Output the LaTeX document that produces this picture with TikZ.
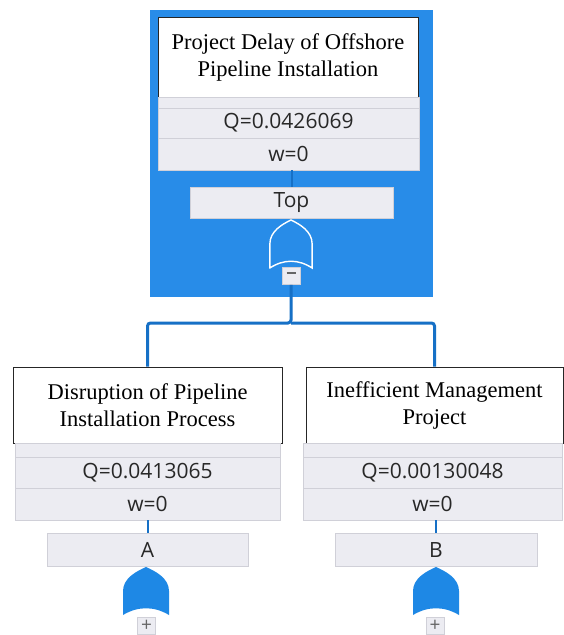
\documentclass[tikz,border=0pt]{standalone}
\usepackage{fontspec}
\setmainfont{Liberation Serif}
\newfontfamily\uifont{Open Sans}
\definecolor{panelblue}{RGB}{40,140,232}
\definecolor{linkblue}{RGB}{22,112,198}
\definecolor{gatefill}{RGB}{30,136,229}
\definecolor{rowfill}{RGB}{236,236,242}
\definecolor{rowline}{RGB}{208,208,216}
\definecolor{textgray}{RGB}{40,40,40}
\begin{document}
\begin{tikzpicture}[x=1pt,y=-1pt,
  titlebox/.style={draw=black!85, line width=1pt, fill=white, inner sep=0pt, align=center,
    font=\fontsize{22.5}{27}\selectfont},
  rowbox/.style={draw=rowline, line width=0.8pt, fill=rowfill, inner sep=0pt,
    font=\uifont\fontsize{21}{24}\selectfont, text=textgray},
  togglebox/.style={rowbox, minimum width=18, minimum height=17,
    font=\uifont\fontsize{19}{19}\selectfont, text=black!60},
  link/.style={draw=linkblue, line width=3pt, rounded corners=3pt},
  thinlink/.style={draw=linkblue, line width=2pt},
  orgate/.pic={\path[pic actions] (-23,48) -- (-23,24) .. controls (-23,11) and (-9,4) .. (0,0)
     .. controls (9,4) and (23,11) .. (23,24) -- (23,48) .. controls (8,39) and (-8,39) .. cycle;}
]
\useasboundingbox (0,0) rectangle (564,635);
\fill[white] (0,0) rectangle (564,635);

% top event panel
\fill[panelblue] (150,10) rectangle (433,297);

% top event
\node[titlebox, minimum width=260, minimum height=80] (t0) at (288,57)
  {Project Delay of Offshore\\Pipeline Installation};
\node[rowbox, minimum width=261, minimum height=11] (e0) at (288.5,102.5) {};
\node[rowbox, minimum width=261, minimum height=30] (q0) at (288.5,123) {Q=0.0426069};
\node[rowbox, minimum width=261, minimum height=32] (w0) at (288.5,154) {w=0};
\node[rowbox, minimum width=203, minimum height=31] (n0) at (291.5,202.5) {Top};
\draw[thinlink] (n0.north |- w0.south) -- (n0.north);
\coordinate (g0) at (291,220);
\pic[draw=white, line width=1.4pt, fill=panelblue, xscale=0.92] at (g0) {orgate};
\node[togglebox] (m0) at (291,276) {\rule[6pt]{9pt}{1.8pt}};

% children
\coordinate (split) at (291,323);
\node[titlebox, minimum width=269, minimum height=76] (t1) at (147.5,405)
  {Disruption of Pipeline\\Installation Process};
\node[titlebox, minimum width=257, minimum height=76] (t2) at (434.5,405)
  {Inefficient Management\\Project};
\draw[link] (m0.south) -- (split) -| (t1.north);
\draw[link] (split) -| (t2.north);

% left child
\node[rowbox, minimum width=265, minimum height=14] (e1) at (147.5,450) {};
\node[rowbox, minimum width=265, minimum height=31] (q1) at (147.5,472.5) {Q=0.0413065};
\node[rowbox, minimum width=265, minimum height=32] (w1) at (147.5,504) {w=0};
\node[rowbox, minimum width=201, minimum height=33] (a1) at (147.5,549.5) {A};
\draw[thinlink] (w1.south) -- (a1.north);
\coordinate (g1) at (146,567);
\pic[fill=gatefill] at (g1) {orgate};
\node[togglebox] (p1) at (146.5,626) {+};

% right child
\node[rowbox, minimum width=259, minimum height=14] (e2) at (432.5,450) {};
\node[rowbox, minimum width=259, minimum height=31] (q2) at (432.5,472.5) {Q=0.00130048};
\node[rowbox, minimum width=259, minimum height=32] (w2) at (432.5,504) {w=0};
\node[rowbox, minimum width=202, minimum height=33] (b2) at (436,549.5) {B};
\draw[thinlink] (w2.south -| b2.north) -- (b2.north);
\coordinate (g2) at (436,567);
\pic[fill=gatefill] at (g2) {orgate};
\node[togglebox] (p2) at (435,626) {+};
\end{tikzpicture}
\end{document}
